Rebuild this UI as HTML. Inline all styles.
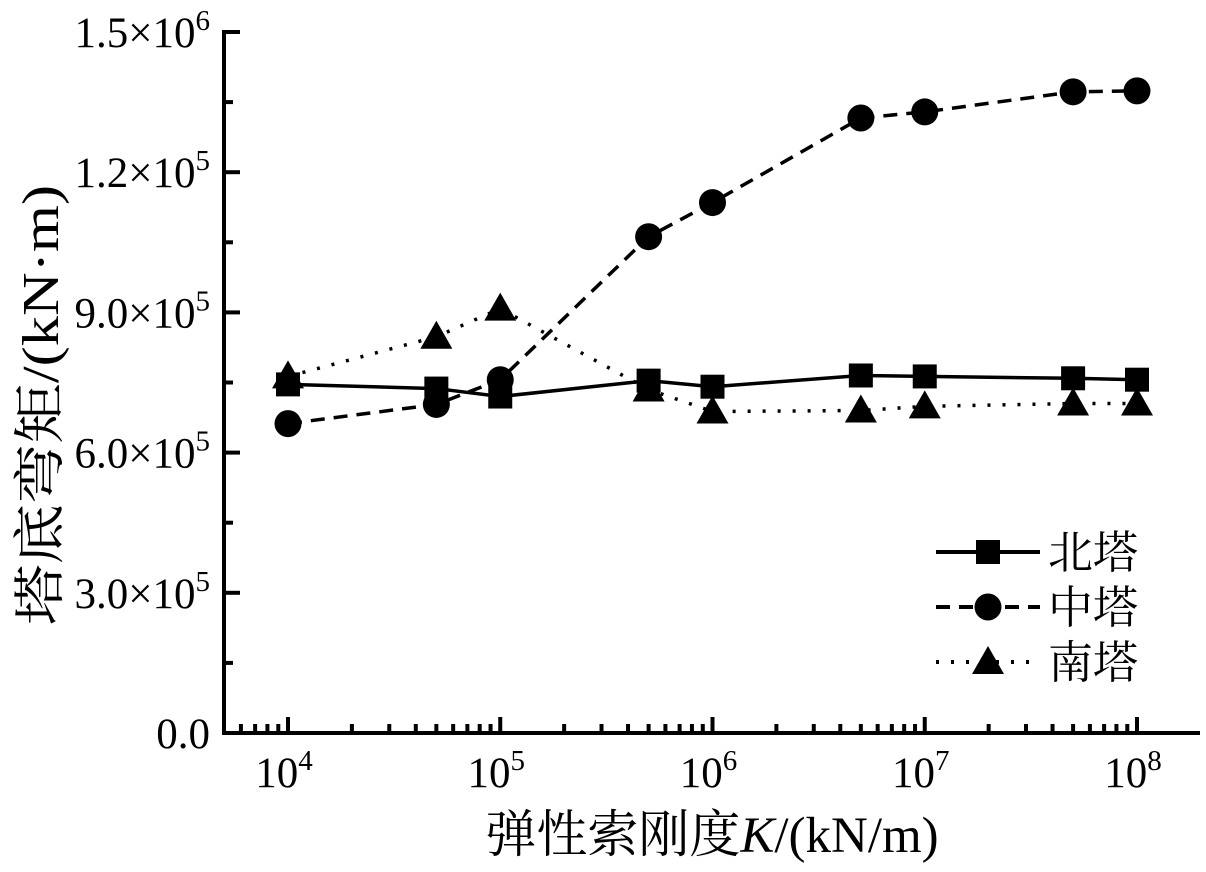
<!DOCTYPE html>
<html><head><meta charset="utf-8">
<style>
html,body{margin:0;padding:0;background:#fff;}
svg{display:block;font-family:"Liberation Serif","Noto Serif CJK SC",serif;}
</style></head>
<body>
<svg id="chart" width="1206" height="872" viewBox="0 0 1206 872" xmlns="http://www.w3.org/2000/svg"></svg>
<script>
const categories = [1e4, 5e4, 1e5, 5e5, 1e6, 5e6, 1e7, 5e7, 1e8];
const northValues = [746000, 737000, 720000, 754000, 741000, 765000, 763000, 759000, 756000];
const middleValues = [662000, 703000, 756000, 1062000, 1135000, 1316000, 1329000, 1372000, 1374000];
const southValues = [763000, 848000, 908000, 735000, 688000, 690000, 699000, 705000, 705000];
const yTickValues = [0, 300000, 600000, 900000, 1200000, 1500000];
const yTickLabels = ["0.0", "3.0×10<tspan dy='-17' font-size='29'>5</tspan>", "6.0×10<tspan dy='-17' font-size='29'>5</tspan>", "9.0×10<tspan dy='-17' font-size='29'>5</tspan>", "1.2×10<tspan dy='-17' font-size='29'>5</tspan>", "1.5×10<tspan dy='-17' font-size='29'>6</tspan>"];
const xTickExponents = [4, 5, 6, 7, 8];
const seriesNames = ["北塔", "中塔", "南塔"];

const svg = document.getElementById('chart');
const NS = "http://www.w3.org/2000/svg";
const X0 = 224, Y0 = 733, XR = 1200, YT = 30;
const decade = 212.25, xBase = 288;
function xScale(v){ return xBase + (Math.log10(v) - 4) * decade; }
function yScale(v){ return Y0 - v / 1500000 * (Y0 - 32); }
function mk(tag, attrs, parent){ const e = document.createElementNS(NS, tag); for (const k in attrs) e.setAttribute(k, attrs[k]); (parent||svg).appendChild(e); return e; }

const axes = mk('g', {});


const yAxis = mk('line', {x1:X0, y1:YT, x2:X0, y2:Y0+2, stroke:'#000','stroke-width':4}, axes);


const xAxis = mk('line', {x1:X0-2, y1:Y0, x2:XR, y2:Y0, stroke:'#000','stroke-width':4}, axes);


mk('line', {x1:X0, y1:YT+2, x2:X0+16, y2:YT+2, stroke:'#000','stroke-width':4}, axes);

yTickValues.forEach((v, i) => {
  const y = yScale(v);
  if (v > 0 && v < 1500000) mk('line', {x1:X0, y1:y, x2:X0+16, y2:y, stroke:'#000','stroke-width':4}, axes);
  if (i < yTickValues.length - 1) {
    const ym = yScale(v + 150000);
    mk('line', {x1:X0, y1:ym, x2:X0+9, y2:ym, stroke:'#000','stroke-width':4}, axes);
  }
  const t = mk('text', {x:210, y:y+15, 'text-anchor':'end', 'font-size':43}, axes);
  t.innerHTML = yTickLabels[i];
  
  
});

for (let e = 3; e <= 8; e++) {
  for (let m = 1; m <= 9; m++) {
    const v = m * Math.pow(10, e);
    const x = xScale(v);
    if (x < X0 + 2 || x > XR) continue;
    const len = (m === 1) ? 16 : 9;
    mk('line', {x1:x, y1:Y0, x2:x, y2:Y0-len, stroke:'#000','stroke-width':4}, axes);
  }
}
xTickExponents.forEach(e => {
  const x = xScale(Math.pow(10, e));
  const t = mk('text', {x:x-4, y:787, 'text-anchor':'middle', 'font-size':43}, axes);
  t.innerHTML = "10<tspan dy='-17' font-size='29'>" + e + "</tspan>";
  
  
});

const xt = mk('text', {x:712, y:852, 'text-anchor':'middle', 'font-size':51});
xt.innerHTML = "弹性索刚度<tspan font-style='italic'>K</tspan>/(kN/m)";


const yt = mk('text', {x:0, y:0, 'text-anchor':'middle', 'font-size':52, 'textLength':440, 'lengthAdjust':'spacingAndGlyphs', transform:'translate(58,405) rotate(-90)'});
yt.textContent = "塔底弯矩/(kN·m)";



function marker(kind, x, y, g){
  if (kind === 0) return mk('rect', {x:x-12, y:y-12, width:24, height:24, fill:'#000'}, g);
  if (kind === 1) return mk('circle', {cx:x, cy:y, r:13.5, fill:'#000'}, g);
  return mk('polygon', {points:`${x},${y-16} ${x-16},${y+12} ${x+16},${y+12}`, fill:'#000'}, g);
}
const dashes = ['none', '14,9', '3,12'];
[northValues, middleValues, southValues].forEach((vals, si) => {
  const g = mk('g', {});
  
  
  const pts = vals.map((v, i) => xScale(categories[i]) + ',' + yScale(v)).join(' ');
  const pl = mk('polyline', {points:pts, fill:'none', stroke:'#000', 'stroke-width':3.5, 'stroke-dasharray':dashes[si]}, g);
  
  
  vals.forEach((v, i) => {
    const m = marker(si, xScale(categories[i]), yScale(v), g);
    
    
  });
});

const lg = mk('g', {});


seriesNames.forEach((n, i) => {
  const y = 552 + i * 55;
  const e = mk('g', {}, lg);
  
  
  mk('line', {x1:936, y1:y, x2:1040, y2:y, stroke:'#000', 'stroke-width':4, 'stroke-dasharray':dashes[i]}, e);
  marker(i, 988, y, e);
  const t = mk('text', {x:1048, y:y+16, 'font-size':45}, e);
  t.textContent = n;
});
</script>
</body></html>
